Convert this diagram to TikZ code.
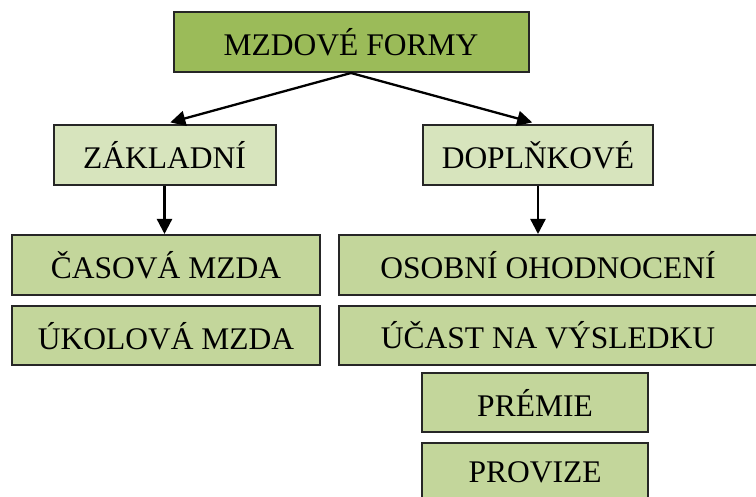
\documentclass[tikz,border=0pt]{standalone}
\usepackage{fontspec}
\setmainfont{Liberation Serif}
\definecolor{MzdaDark}{RGB}{155,187,89}
\definecolor{MzdaPale}{RGB}{215,228,189}
\definecolor{MzdaMid}{RGB}{195,214,155}
\usetikzlibrary{arrows.meta,positioning}

\begin{document}
\begin{tikzpicture}[
        x=1pt, y=-1pt,
        box/.style={rectangle, draw=black!85, line width=2pt, fill=#1, minimum height=60pt, inner sep=0pt, font=\fontsize{31.5}{31.5}\selectfont},
        link/.style={-{Triangle[length=15pt,width=15pt]}, line width=2.3pt},
    ]
        \useasboundingbox (0,0) rectangle (756,497);
        \node[box=MzdaDark, minimum width=355pt] (forms) at (351,42) {MZDOVÉ FORMY};
        \node[box=MzdaPale, minimum width=222pt] (zakl) at (164.5,155) {ZÁKLADNÍ};
        \node[box=MzdaPale, minimum width=230pt] (dopl) at (538,155) {DOPLŇKOVÉ};
        \node[box=MzdaMid, minimum width=308pt] (casova) at (166,265) {ČASOVÁ MZDA};
        \node[box=MzdaMid, minimum width=308pt, minimum height=59pt] (ukolova) at (166,336) {ÚKOLOVÁ MZDA};
        \node[box=MzdaMid, minimum width=418pt] (osobni) at (548,265) {OSOBNÍ OHODNOCENÍ};
        \node[box=MzdaMid, minimum width=418pt, minimum height=59pt] (ucast) at (548,335.5) {ÚČAST NA VÝSLEDKU};
        \node[box=MzdaMid, minimum width=226pt, minimum height=59pt] (premie) at (535,402.5) {PRÉMIE};
        \node[box=MzdaMid, minimum width=226pt, minimum height=59pt] (provize) at (535,472.5) {PROVIZE};
        \draw[link, shorten >=6pt] (forms.south) -- (zakl.north);
        \draw[link, shorten >=6pt] (forms.south) -- (dopl.north);
        \draw[link] (zakl.south) -- (casova.north -| zakl.south);
        \draw[link] (dopl.south) -- (osobni.north -| dopl.south);
    \end{tikzpicture}
\end{document}
